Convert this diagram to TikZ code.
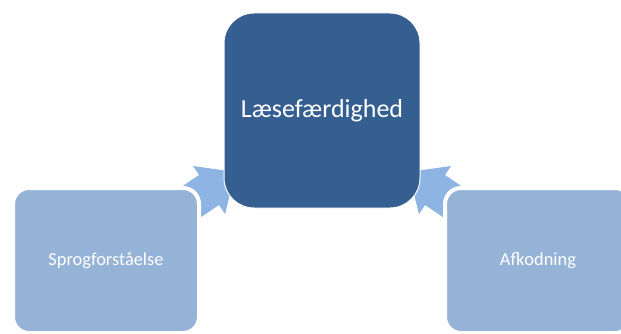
\documentclass[tikz,border=0pt]{standalone}
\usepackage{fontspec}
\setmainfont{Carlito}
\definecolor{darkbox}{HTML}{365F91}
\definecolor{lightbox}{HTML}{95B3D7}
\definecolor{arrowblue}{HTML}{8DB4E2}
\tikzset{
  mainbox/.style={draw=white, line width=1pt, fill=darkbox, rounded corners=30pt,
    minimum width=196pt, minimum height=195pt, text=white, inner sep=0pt,
    font=\fontsize{26}{30}\selectfont},
  sidebox/.style={draw=white, line width=4pt, fill=lightbox, rounded corners=16pt,
    minimum width=186pt, minimum height=145pt, text=white, inner sep=0pt,
    font=\fontsize{18.4}{22}\selectfont},
  blockarrow/.style={fill=arrowblue, draw=none}
}
\begin{document}
\begin{tikzpicture}[x=1pt, y=-1pt]
  \useasboundingbox (0,0) rectangle (621,334);

  % block arrows pointing at the centre box (drawn first, partly hidden)
  \fill[blockarrow] (235.6,172) -- (193,166) -- (199,175) -- (165.7,197.5)
        -- (185.9,227.3) -- (219,205) -- (225,214) -- cycle;
  \fill[blockarrow] (408.4,172) -- (451,166) -- (445,175) -- (478.3,197.5)
        -- (458.1,227.3) -- (425,205) -- (419,214) -- cycle;

  % boxes
  \node[mainbox] (read) at (322,110.5) {Læsefærdighed};
  \node[sidebox] (lang) at (106,260.5) {Sprogforståelse};
  \node[sidebox] (decode) at (538,260.5) {Afkodning};
\end{tikzpicture}
\end{document}
